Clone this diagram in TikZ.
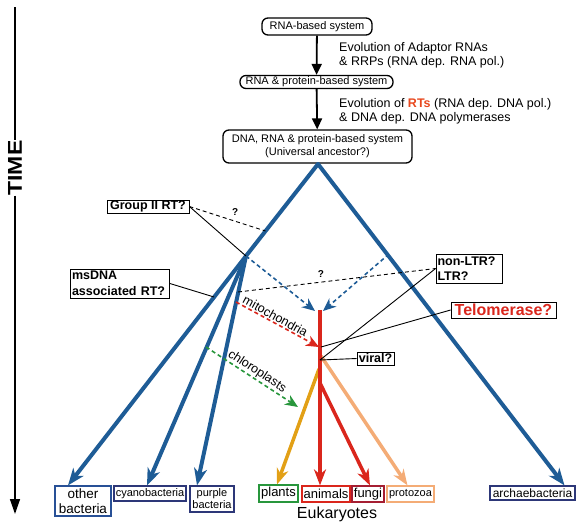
\documentclass[tikz,border=0pt]{standalone}
\usepackage{fontspec}
\setmainfont{Liberation Sans}
\usetikzlibrary{arrows.meta,calc}
\definecolor{treeblue}{RGB}{30,92,150}
\definecolor{eured}{RGB}{218,38,28}
\definecolor{plantcol}{RGB}{226,160,22}
\definecolor{protocol}{RGB}{244,172,118}
\definecolor{greencol}{RGB}{40,150,60}
\definecolor{fungibox}{RGB}{165,30,50}
\definecolor{rtcol}{RGB}{232,72,30}
\definecolor{boxblue}{RGB}{40,80,150}
\definecolor{boxnavy}{RGB}{45,55,120}
\begin{document}
\begin{tikzpicture}[x=1pt,y=-1pt,
  stagebox/.style={draw, line width=1.3pt, rounded corners=6pt, inner sep=0pt, align=center,
    font=\fontsize{11}{13}\selectfont},
  evotext/.style={anchor=base west, inner sep=0pt, align=left, font=\fontsize{12.5}{14}\selectfont},
  qbox/.style={draw, line width=0.8pt, inner sep=0pt, font=\bfseries\fontsize{12.5}{15.5}\selectfont},
  taxbox/.style={draw, line width=1.2pt, inner sep=0pt, align=center},
  stagearrow/.style={line width=1.8pt, -{Triangle[length=11pt,width=10pt]}},
  treeline/.style={treeblue, line width=4pt, line cap=round},
  treearrow/.style={treeblue, line width=4pt, -{Stealth[length=17pt,width=13pt,inset=5pt]}},
  euarrow/.style={line width=3.5pt, -{Stealth[length=16pt,width=12pt,inset=5pt]}},
  blueDash/.style={treeblue, line width=1.6pt, dash pattern=on 4pt off 3pt, -{Stealth[length=13pt,width=11pt,inset=4pt]}},
  transferDash/.style={line width=1.6pt, dash pattern=on 4pt off 3pt, -{Stealth[length=13pt,width=11pt,inset=4pt]}},
  blackDash/.style={black, line width=0.9pt, dash pattern=on 4pt off 3pt},
  blackLine/.style={black, line width=0.9pt},
  qmark/.style={font=\bfseries\fontsize{10}{12}\selectfont, inner sep=0pt},
  slopedtext/.style={font=\fontsize{12.5}{14}\selectfont, inner sep=0pt}
]
\useasboundingbox (0,0) rectangle (576,525);

% TIME axis
\node[rotate=90, font=\bfseries\fontsize{20}{20}\selectfont, inner sep=0pt, xscale=1.15] (time) at (15,168) {TIME};
\coordinate (ttop) at (15,7);
\coordinate (tbot) at (15,514);
\draw[line width=1.4pt] (ttop) -- (time.east);
\draw[line width=1.4pt, -{Triangle[length=15pt,width=10pt]}] (time.west) -- (tbot);

% stage boxes
\node[stagebox, minimum width=110pt, minimum height=17pt] (s1) at (317,26.5) {RNA-based system};
\node[stagebox, minimum width=153pt, minimum height=13pt] (s2) at (316.5,82) {RNA \& protein-based system};
\node[stagebox, minimum width=189pt, minimum height=33pt] (s3) at (317.5,146.5) {DNA, RNA \& protein-based system\\(Universal ancestor?)};
\draw[stagearrow] (s1) -- (s2);
\draw[stagearrow] (s2) -- (s3);

\node[evotext] (e1) at (339,65) {Evolution of Adaptor RNAs\\\& RRPs (RNA dep. RNA pol.)};
\node[evotext] (e2) at (339,121.5) {Evolution of {\color{rtcol}\bfseries RTs} (RNA dep. DNA pol.)\\\& DNA dep. DNA polymerases};

% tree key points
\coordinate (apex) at (318,164);
\coordinate (L) at (246,256);
\coordinate (R) at (389,254);
\coordinate (g2hit) at (265.5,231);
\coordinate (mshit) at (214,297);
\coordinate (pbq) at (238,292);
\coordinate (pbm) at (236,302);
\coordinate (cyc) at (206,347);
\coordinate (eutop) at (320,310);
\coordinate (plB) at (319,369);
\coordinate (fuB) at (320,383);
\coordinate (prB) at (321,356);
\coordinate (telhit) at (321,347);
\coordinate (ltrhit) at (320,360);
\coordinate (chtip) at (298,407);

% bottom boxes
\node[taxbox, draw=boxblue, minimum width=56pt, minimum height=30pt, font=\fontsize{13.5}{14.5}\selectfont] (ob) at (83,501) {other\\bacteria};
\node[taxbox, draw=boxnavy, minimum width=72pt, minimum height=15pt, font=\fontsize{11}{12}\selectfont] (cy) at (150,493.5) {cyanobacteria};
\node[taxbox, draw=boxnavy, minimum width=44pt, minimum height=26pt, font=\fontsize{11}{12}\selectfont] (pb) at (212,499) {purple\\bacteria};
\node[taxbox, draw=greencol, minimum width=39pt, minimum height=17pt, font=\fontsize{13}{14}\selectfont] (pl) at (278.5,493.5) {plants};
\node[taxbox, draw=eured, minimum width=48pt, minimum height=16pt, font=\fontsize{13}{14}\selectfont] (an) at (326,494) {animals};
\node[taxbox, draw=fungibox, minimum width=32pt, minimum height=16pt, font=\fontsize{13}{14}\selectfont] (fu) at (368,494) {fungi};
\node[taxbox, draw=protocol, minimum width=47pt, minimum height=16pt, font=\fontsize{11}{12}\selectfont] (pr) at (410.5,494) {protozoa};
\node[taxbox, draw=boxnavy, minimum width=85pt, minimum height=14pt, font=\fontsize{12}{13}\selectfont] (ar) at (532.5,493) {archaebacteria};
\node[font=\fontsize{16}{18}\selectfont, inner sep=0pt] (euk) at (337,514) {Eukaryotes};

% label boxes
\node[qbox, minimum width=82pt, minimum height=13pt] (g2) at (148,206.5) {Group II RT?};
\node[qbox, minimum width=99pt, minimum height=29pt, align=left, text width=96pt] (ms) at (120,283.5) {msDNA\\associated RT?};
\node[qbox, minimum width=66pt, minimum height=29pt, align=left, text width=63pt] (nl) at (469,268.5) {non-LTR?\\LTR?};
\node[qbox, minimum width=105pt, minimum height=16pt, text=eured, font=\bfseries\fontsize{16}{18}\selectfont] (tel) at (503.5,310) {Telomerase?};
\node[qbox, minimum width=37pt, minimum height=13pt] (vir) at (375.5,358.5) {viral?};

% eukaryote branches
\draw[euarrow, protocol] (prB) -- ([xshift=-3pt]pr.north);
\draw[euarrow, plantcol] (plB) -- ([xshift=-1.5pt]pl.north);
\draw[euarrow, eured] (fuB) -- ([xshift=2pt]fu.north);
\draw[euarrow, eured] (eutop) -- (an.north -| eutop);

% blue tree
\draw[treeline] (apex) -- (L);
\draw[treearrow] (L) -- ([xshift=-15pt]ob.north);
\draw[treearrow] (L) -- ([xshift=-3pt]cy.north);
\draw[treearrow] (L) -- ([xshift=-15pt]pb.north);
\draw[treearrow] (apex) -- ([xshift=32pt]ar.north);

% dashed transfers
\draw[blueDash] (L) -- ([xshift=-5pt,yshift=-1pt]eutop);
\draw[blueDash] (R) -- ([xshift=3pt,yshift=-1pt]eutop);
\draw[transferDash, eured] (pbm) -- ([xshift=-2pt]telhit);
\draw[transferDash, greencol] (cyc) -- (chtip);
\node[slopedtext, rotate=-28.8] (mito) at (275.5,316) {mitochondria};
\node[slopedtext, rotate=-33.1] (chloro) at (257,371.5) {chloroplasts};

% black lines
\draw[blackDash] (g2.east) -- node[qmark, pos=0.6, above=5pt] {?} (g2hit);
\draw[blackLine] (g2.east) -- (L);
\draw[blackLine] (ms.east) -- (mshit);
\draw[blackDash] (pbq) -- node[qmark, pos=0.42, above=4pt] {?} (nl.west);
\draw[blackLine] (nl.west) -- (ltrhit);
\draw[blackLine] (tel.west) -- (telhit);
\draw[blackLine] (vir.west) -- (ltrhit);
\end{tikzpicture}
\end{document}
